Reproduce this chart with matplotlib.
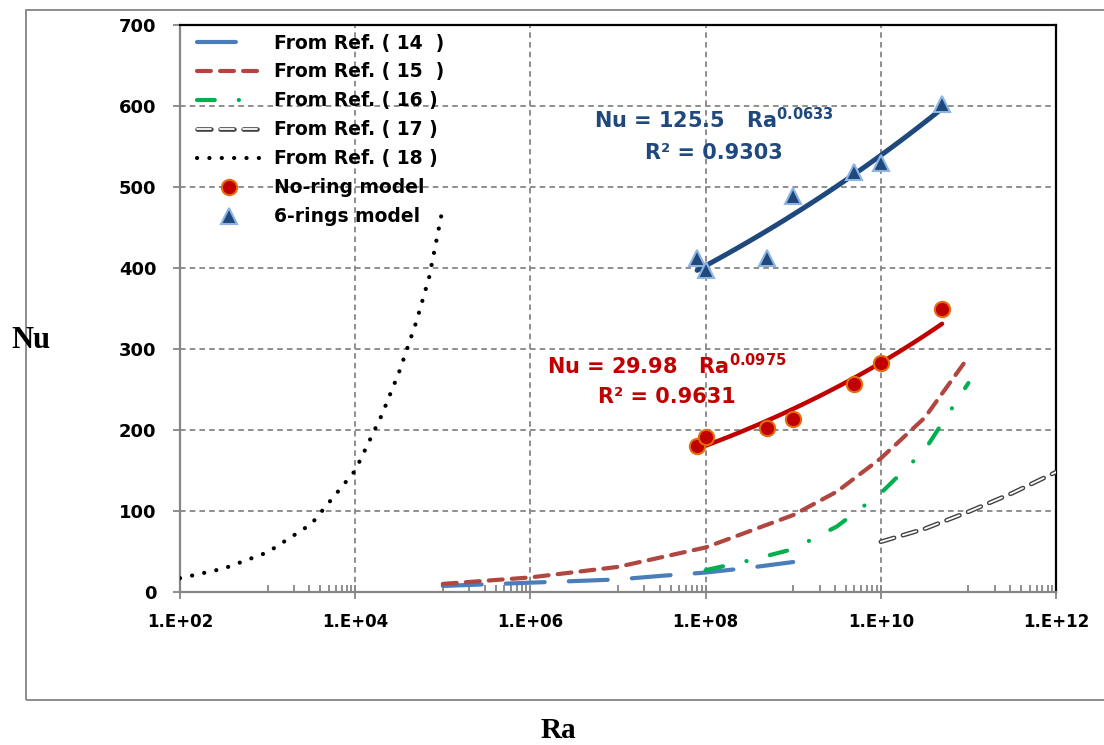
import matplotlib
matplotlib.use("Agg")
import matplotlib.pyplot as plt
import matplotlib.patheffects as pe
from matplotlib.patches import Rectangle
from matplotlib.ticker import FixedLocator, FuncFormatter, NullFormatter
import numpy as np

# =========================
# Data
# =========================
ra_models = [8e7, 1e8, 5e8, 1e9, 5e9, 1e10, 5e10]
nu_no_ring = [180, 191, 203, 214, 257, 283, 349]
nu_6_rings = [412, 397, 412, 489, 518, 530, 602]

# power-law trendlines shown on the chart (Nu = c * Ra^n)
fit_no_ring = (29.98, 0.0975, 0.9631)
fit_6_rings = (125.5, 0.0633, 0.9303)

ra_ref14 = [1e5, 3.16e5, 1e6, 3.16e6, 1e7, 3.16e7, 1e8, 3.16e8, 1e9]
nu_ref14 = [7.5, 9.5, 11.5, 13.5, 15.5, 20, 24, 30, 37]

ra_ref15 = [1e5, 1e6, 1e7, 1e8, 1e9, 3.16e9, 1e10, 3.16e10, 1e11]
nu_ref15 = [10, 18, 31, 55, 95, 124, 165, 215, 290]

ra_ref16 = [1e8, 3.16e8, 1e9, 3.16e9, 1e10, 3.16e10, 1e11]
nu_ref16 = [27, 39, 53, 81, 122, 175, 258]

ra_ref17 = [1e10, 3.16e10, 1e11, 3.16e11, 1e12]
nu_ref17 = [62, 78, 99, 122, 148]

ra_ref18 = [1e2, 3.16e2, 1e3, 3.16e3, 1e4, 2e4, 3.16e4, 5e4, 7e4, 1e5]
nu_ref18 = [17, 29, 49, 84, 150, 218, 271, 334, 389, 474]

x_major = [1e2, 1e4, 1e6, 1e8, 1e10, 1e12]
y_major = [0, 100, 200, 300, 400, 500, 600, 700]

plt.rcParams["lines.scale_dashes"] = False
plt.rcParams["mathtext.fontset"] = "dejavusans"
plt.rcParams["mathtext.default"] = "bf"

grid_gray = "#868686"


def power_curve(fit, ra_lo, ra_hi):
    ra = np.logspace(np.log10(ra_lo), np.log10(ra_hi), 60)
    return ra, fit[0] * ra ** fit[1]


fig = plt.figure(figsize=(11.04, 7.45), dpi=100)
ax = fig.add_axes([180 / 1104, 153 / 745, 876 / 1104, 567 / 745])

# outer chart frame (cut off on the right like the original)
fig.patches.append(Rectangle((26 / 1104, 45 / 745), 1.2, 690 / 745, transform=fig.transFigure,
                             fill=False, edgecolor="#8c8c8c", linewidth=1.4, clip_on=False))

lw = 3.0
ax.plot(ra_ref14, nu_ref14, color="#4a7ebb", lw=lw, dashes=(28, 17.4),
        dash_capstyle="round", label="From Ref. ( 14  )", zorder=3)
ax.plot(ra_ref15, nu_ref15, color="#b0463f", lw=lw, dashes=(10, 6.6),
        dash_capstyle="round", label="From Ref. ( 15  )", zorder=3)
ax.plot(ra_ref16, nu_ref16, color="#00b050", lw=lw, dashes=(12.8, 17.3, 0.1, 17.3),
        dash_capstyle="round", label="From Ref. ( 16 )", zorder=3)
ax.plot(ra_ref17, nu_ref17, color="white", lw=1.3, dashes=(10, 6.6),
        dash_capstyle="round", label="From Ref. ( 17 )", zorder=3,
        path_effects=[pe.Stroke(linewidth=3.3, foreground="#404040"), pe.Normal()])
ax.plot(ra_ref18, nu_ref18, color="black", lw=lw, dashes=(0.1, 8.8),
        dash_capstyle="round", label="From Ref. ( 18 )", zorder=3)

ra_fit, nu_fit = power_curve(fit_no_ring, min(ra_models), max(ra_models))
ax.plot(ra_fit, nu_fit, color="#c00000", lw=3.2, solid_capstyle="round", zorder=4)
ra_fit, nu_fit = power_curve(fit_6_rings, min(ra_models), max(ra_models))
ax.plot(ra_fit, nu_fit, color="#1f497d", lw=3.6, solid_capstyle="round", zorder=4)

ax.plot(ra_models, nu_no_ring, "o", ms=11, mfc="#c00000", mec="#e46c0a", mew=1.5,
        label="No-ring model", zorder=5)
ax.plot(ra_models, nu_6_rings, "^", ms=12, mfc="#1f497d", mec="#8eb4e3", mew=1.5,
        label="6-rings model", zorder=5)

ax.text(10 ** 8.09, 583, f"Nu = {fit_6_rings[0]}   Ra$^{{{fit_6_rings[1]}}}$", color="#1f497d",
        fontsize=15, fontweight="bold", ha="center", va="center")
ax.text(10 ** 8.09, 542, f"R² = {fit_6_rings[2]}", color="#1f497d",
        fontsize=15, fontweight="bold", ha="center", va="center")
ax.text(10 ** 7.56, 280, f"Nu = {fit_no_ring[0]}   Ra$^{{{fit_no_ring[1]}}}$", color="#c00000",
        fontsize=15, fontweight="bold", ha="center", va="center")
ax.text(10 ** 7.56, 241, f"R² = {fit_no_ring[2]}", color="#c00000",
        fontsize=15, fontweight="bold", ha="center", va="center")

ax.set_xscale("log")
ax.set_xlim(1e2, 1e12)
ax.set_ylim(0, 700)
ax.xaxis.set_major_locator(FixedLocator(x_major))
ax.xaxis.set_minor_locator(FixedLocator([k * 10.0 ** d for d in (3, 5, 7, 9, 11) for k in range(1, 10)]))
ax.xaxis.set_major_formatter(FuncFormatter(lambda v, _: f"1.E+{int(round(np.log10(v))):02d}"))
ax.xaxis.set_minor_formatter(NullFormatter())
ax.yaxis.set_major_locator(FixedLocator(y_major))

ax.grid(True, which="major", color=grid_gray, linestyle=(0, (4, 3)), linewidth=1.3)
ax.set_axisbelow(True)

for side in ("left", "bottom"):
    ax.spines[side].set_color(grid_gray)
    ax.spines[side].set_linewidth(1.6)
for side in ("top", "right"):
    ax.spines[side].set_color("black")
    ax.spines[side].set_linewidth(1.6)

ax.tick_params(axis="x", which="major", direction="inout", length=10, width=1.3,
               color=grid_gray, pad=10, labelsize=12)
ax.tick_params(axis="x", which="minor", direction="in", length=5, width=1.3, color=grid_gray)
ax.tick_params(axis="y", which="major", direction="out", length=5, width=1.3,
               color=grid_gray, pad=12, labelsize=13)
for lab in ax.get_xticklabels() + ax.get_yticklabels():
    lab.set_fontweight("bold")

leg = ax.legend(loc="upper left", bbox_to_anchor=(0.019, 0.985), frameon=False,
                prop={"weight": "bold", "size": 13.5}, handlelength=3.4,
                handletextpad=0.7, labelspacing=0.53, borderpad=0, borderaxespad=0)

fig.text(31 / 1104, 1 - 341 / 745, "Nu", family="Liberation Serif", fontweight="bold",
         fontsize=22, ha="center", va="center")
fig.text(558 / 1104, 1 - 731 / 745, "Ra", family="Liberation Serif", fontweight="bold",
         fontsize=21, ha="center", va="center")

fig.savefig("out.png", dpi=100)
